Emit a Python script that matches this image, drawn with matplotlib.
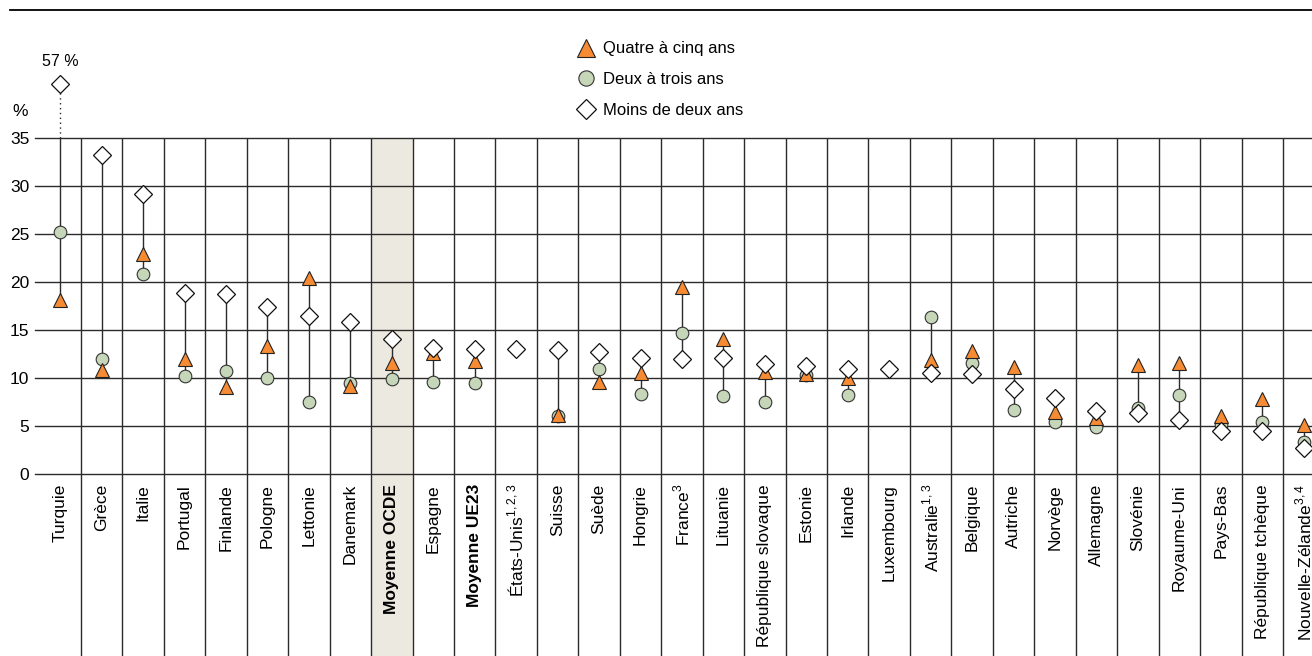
import matplotlib.pyplot as plt
from matplotlib.lines import Line2D
import numpy as np

plt.rcParams['font.family'] = ['Liberation Sans', 'DejaVu Sans']
plt.rcParams['mathtext.fontset'] = 'custom'
plt.rcParams['mathtext.rm'] = 'Liberation Sans'

countries = ['Turquie', 'Grèce', 'Italie', 'Portugal', 'Finlande', 'Pologne', 'Lettonie',
             'Danemark', 'Moyenne OCDE', 'Espagne', 'Moyenne UE23', 'États-Unis$^{1,2,3}$',
             'Suisse', 'Suède', 'Hongrie', 'France$^{3}$', 'Lituanie', 'République slovaque',
             'Estonie', 'Irlande', 'Luxembourg', 'Australie$^{1,3}$', 'Belgique', 'Autriche',
             'Norvège', 'Allemagne', 'Slovénie', 'Royaume-Uni', 'Pays-Bas',
             'République tchèque', 'Nouvelle-Zélande$^{3,4}$']
bold = ['Moyenne OCDE', 'Moyenne UE23']

# Quatre à cinq ans
four_five = [18.2, 10.9, 22.9, 12.0, 9.1, 13.4, 20.5, 9.2, 11.6, 12.6, 11.8, np.nan,
             6.2, 9.6, 10.6, 19.5, 14.1, 10.7, 10.4, 10.0, np.nan, 11.9, 12.8, 11.2,
             6.5, 5.9, 11.4, 11.6, 6.1, 7.8, 5.1]
# Deux à trois ans
two_three = [25.2, 12.0, 20.9, 10.2, 10.8, 10.0, 7.5, 9.5, 9.9, 9.6, 9.5, np.nan,
             6.1, 11.0, 8.4, 14.7, 8.2, 7.5, 10.3, 8.3, np.nan, 16.4, 11.6, 6.7,
             5.4, 4.9, 6.9, 8.3, 5.1, 5.4, 3.4]
# Moins de deux ans
under_two = [57.0, 33.3, 29.2, 18.9, 18.8, 17.4, 16.5, 15.9, 14.1, 13.2, 13.1, 13.1,
             13.0, 12.7, 12.1, 12.0, 12.1, 11.5, 11.3, 11.0, 11.0, 10.6, 10.4, 8.9,
             7.9, 6.6, 6.4, 5.7, 4.5, 4.5, 2.7]

ymax = 35
off_scale_y = 40.7   # where off-scale values are drawn
bottom_y = -18.93    # bottom edge of the figure in data units

orange = '#F68B33'
green = '#C6D7B9'
line_c = '#2b2b2b'

fig = plt.figure(figsize=(13.12, 6.56), dpi=100)
ax = fig.add_axes([35 / 1312, (656 - 474.3) / 656, 1 - 35 / 1312, 336 / 656])
x = np.arange(len(countries))
ax.set_xlim(-0.609, 30.2)
ax.set_ylim(0, ymax)
for s in ax.spines.values():
    s.set_visible(False)

# shaded OCDE column
i_oecd = countries.index('Moyenne OCDE')
ax.bar(i_oecd, ymax - bottom_y, bottom=bottom_y, width=1, color='#ECEAE0',
       zorder=0, clip_on=False)

# grid
for v in range(0, ymax + 1, 5):
    ax.axhline(v, color=line_c, lw=1, zorder=1, clip_on=False)
ax.vlines(x[:-1] + 0.5, bottom_y, ymax, color=line_c, lw=1, zorder=1, clip_on=False)

ax.set_yticks(range(0, ymax + 1, 5))
ax.tick_params(axis='y', length=0, pad=4, labelsize=12.5)
ax.set_xticks([])

a = np.array(four_five)
b = np.array(two_three)
c = np.array(under_two)
c_plot = np.where(c > ymax, off_scale_y, c)

# connectors
for i in x:
    vals = [v for v in (a[i], b[i], c[i]) if not np.isnan(v)]
    lo, hi = min(vals), max(vals)
    if hi > ymax:
        ax.plot([i, i], [lo, ymax], color=line_c, lw=1, zorder=2)
        ax.plot([i, i], [ymax, off_scale_y], color=line_c, lw=1, ls=(0, (1, 2.5)),
                zorder=2, clip_on=False)
        ax.text(i, off_scale_y + 1.5, '%d %%' % c[i], ha='center', va='bottom',
                fontsize=11.5)
    else:
        ax.plot([i, i], [lo, hi], color=line_c, lw=1, zorder=2)

ax.plot(x, b, 'o', ms=9.1, mfc=green, mec='#333333', mew=0.8, ls='none', zorder=3)
ax.plot(x, a, '^', ms=9.6, mfc=orange, mec='#222222', mew=0.8, ls='none', zorder=4)
ax.plot(x, c_plot, 'D', ms=9.6, mfc='white', mec='#111111', mew=0.9, ls='none',
        zorder=5, clip_on=False)

# category labels
for i, name in enumerate(countries):
    ax.text(i, -1.0, name, rotation=90, ha='center', va='top', fontsize=12.5,
            fontweight='bold' if name in bold else 'normal')

fig.text(12 / 1312, 1 - 112 / 656, '%', fontsize=12.5, va='center')
fig.add_artist(Line2D([10 / 1312, 1], [1 - 10 / 656] * 2, color='black', lw=1.3))

handles = [
    Line2D([], [], marker='^', ls='none', ms=13, mfc=orange, mec='#222222', mew=0.8),
    Line2D([], [], marker='o', ls='none', ms=11, mfc=green, mec='#333333', mew=0.8),
    Line2D([], [], marker='D', ls='none', ms=10, mfc='white', mec='#111111', mew=0.9),
]
fig.legend(handles, ['Quatre à cinq ans', 'Deux à trois ans', 'Moins de deux ans'],
           loc='upper left', bbox_to_anchor=(571 / 1312, 1 - 33 / 656), frameon=False,
           fontsize=12, handlelength=0.8, handletextpad=0.6, labelspacing=0.95,
           borderpad=0)

fig.savefig('out.png', dpi=100)
